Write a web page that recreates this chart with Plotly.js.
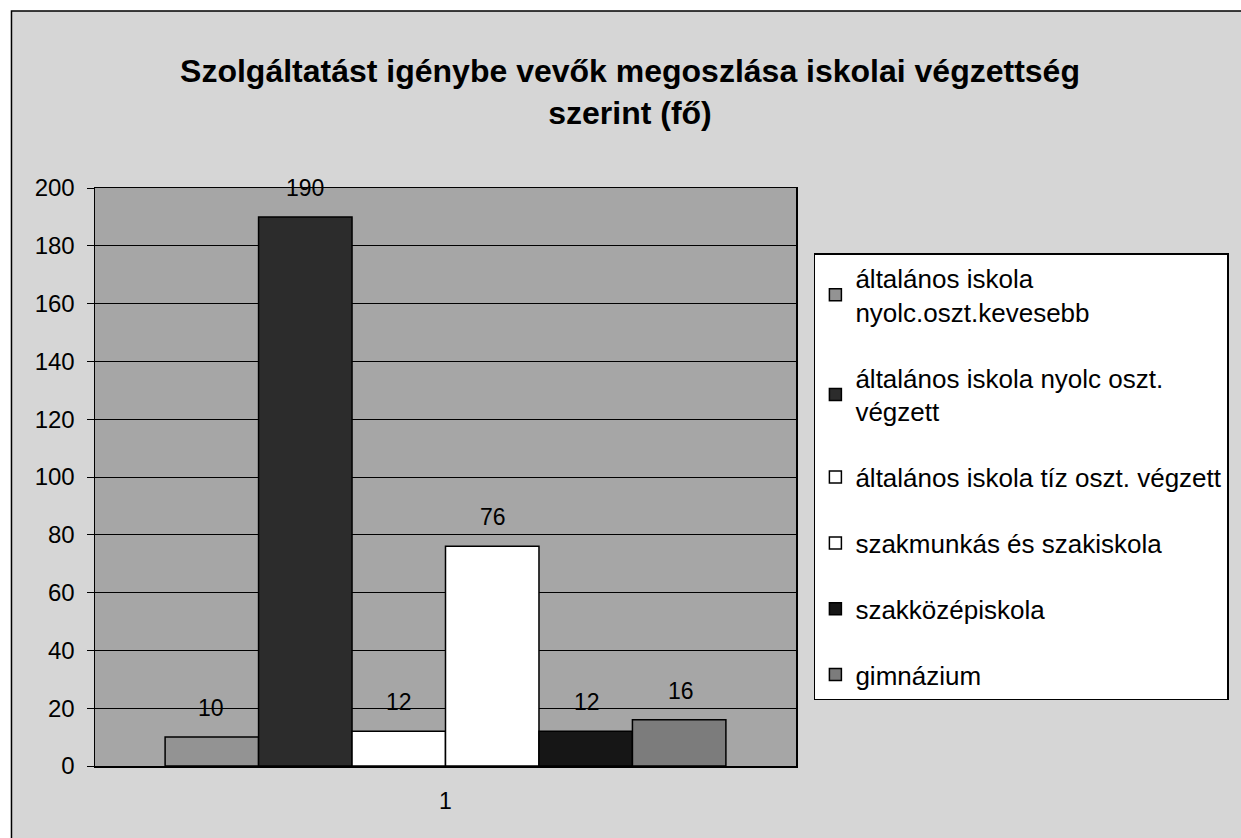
<!DOCTYPE html>
<html>
<head>
<meta charset="utf-8">
<script src="https://cdn.plot.ly/plotly-3.0.1.min.js"></script>
<style>html,body{margin:0;padding:0;background:#fff;}#chart{width:1241px;height:838px;}</style>
</head>
<body>
<div id="chart"></div>
<script>
var categories = ["1"];
var seriesNames = [
  "általános iskola<br>nyolc.oszt.kevesebb",
  "általános iskola nyolc oszt.<br>végzett",
  "általános iskola tíz oszt. végzett",
  "szakmunkás és szakiskola",
  "szakközépiskola",
  "gimnázium"
];
var seriesValues = [10, 190, 12, 76, 12, 16];
var seriesColors = ["#939393", "#2c2c2c", "#ffffff", "#ffffff", "#161616", "#7c7c7c"];
var yTicks = [0, 20, 40, 60, 80, 100, 120, 140, 160, 180, 200];

var FONT = "Liberation Sans, Arial, sans-serif";
var L = 95, R = 800, T = 188, B = 766, W = 1241, H = 838;
var BARGAP = 0.2;
function px(x) { return (x - L) / (R - L); }
function py(y) { return (B - y) / (B - T); }

var traces = seriesNames.map(function (n, i) {
  return {
    type: "bar",
    name: n,
    x: categories,
    y: [seriesValues[i]],
    legendgroup: "g" + i,
    marker: {color: seriesColors[i], line: {color: "#000", width: 1.5}},
    hoverinfo: "skip"
  };
});

// value labels, placed above each bar via the axes (x given as category index)
var nS = seriesValues.length;
var barW = (R - L) * (1 - BARGAP) / nS;
var annotations = seriesValues.map(function (v, i) {
  return {
    x: 0, y: v, xref: "x", yref: "y",
    text: String(v), showarrow: false,
    xshift: (i - (nS - 1) / 2) * barW,
    yshift: 29, yanchor: "middle",
    font: {family: FONT, size: 23, color: "#000"}
  };
});

var layout = {
  width: W, height: H,
  margin: {l: L, r: W - R, t: T, b: H - B, pad: 0},
  paper_bgcolor: "#ffffff",
  plot_bgcolor: "rgba(0,0,0,0)",
  font: {family: FONT, size: 24, color: "#000"},
  barmode: "group",
  bargap: BARGAP,
  bargroupgap: 0,
  showlegend: true,
  title: {
    text: "<b>Szolgáltatást igénybe vevők megoszlása iskolai végzettség<br>szerint (fő)</b>",
    font: {family: FONT, size: 32, color: "#000"},
    x: 630 / W, xanchor: "center", xref: "container",
    y: 1 - 82 / H, yanchor: "middle", yref: "container"
  },
  xaxis: {
    type: "category",
    categoryarray: categories,
    range: [-0.5, 0.5],
    autorange: false,
    showline: true, linecolor: "#000", linewidth: 1.5, mirror: true,
    ticks: "", showgrid: false,
    ticklabelstandoff: 14,
    tickfont: {family: FONT, size: 23}
  },
  yaxis: {
    range: [0, 200],
    autorange: false,
    tickvals: yTicks,
    ticktext: yTicks.map(String),
    showline: true, linecolor: "#000", linewidth: 1.5, mirror: true,
    showgrid: true, gridcolor: "#000", gridwidth: 1,
    zeroline: false,
    ticks: "outside", ticklen: 7, tickcolor: "#000",
    ticklabelstandoff: 7,
    tickfont: {family: FONT, size: 24}
  },
  legend: {
    x: px(818), y: py(253), xanchor: "left", yanchor: "top",
    xref: "paper", yref: "paper",
    bgcolor: "#ffffff", bordercolor: "#000", borderwidth: 1.5,
    font: {family: FONT, size: 26, color: "#000"},
    traceorder: "grouped",
    tracegroupgap: 29,
    itemclick: false, itemdoubleclick: false
  },
  annotations: annotations,
  shapes: [
    {type: "rect", xref: "paper", yref: "paper", layer: "below",
     x0: px(11), x1: px(1260), y0: py(860), y1: py(11),
     fillcolor: "#d6d6d6", line: {color: "#000", width: 1.5}},
    {type: "rect", xref: "paper", yref: "paper", layer: "below",
     x0: 0, x1: 1, y0: 0, y1: 1,
     fillcolor: "#a6a6a6", line: {width: 0}}
  ]
};

Plotly.newPlot("chart", traces, layout, {displayModeBar: false, staticPlot: true});
</script>
</body>
</html>
